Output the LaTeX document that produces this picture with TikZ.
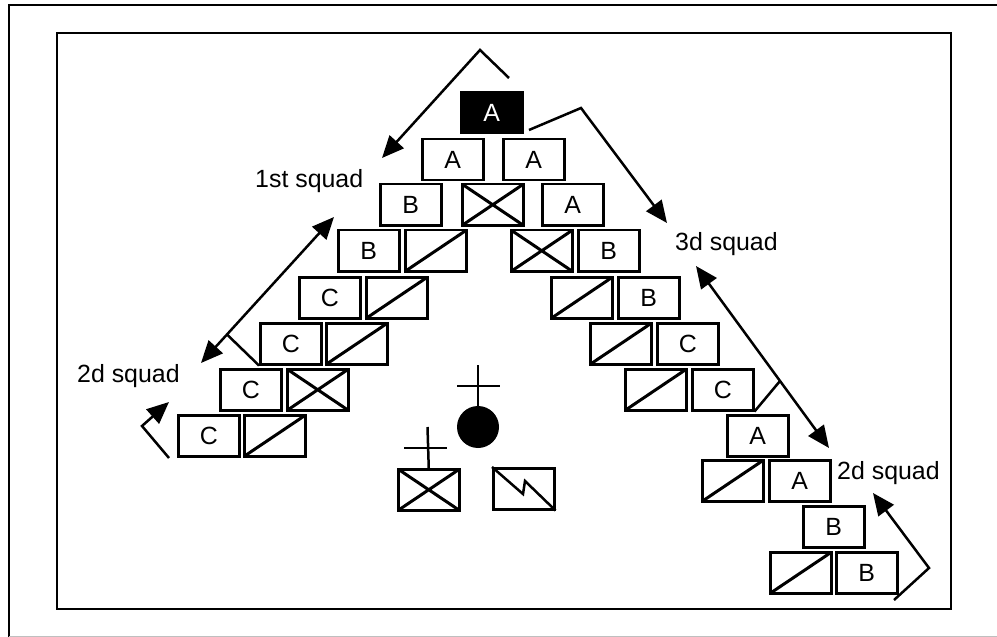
\documentclass[tikz,border=0pt]{standalone}
\usepackage{fontspec}
\setmainfont{Liberation Sans}
\usetikzlibrary{arrows.meta}
\tikzset{
  unit/.style={draw, line width=2.5bp, minimum width=61bp, minimum height=41bp, inner sep=0pt, anchor=north west, font=\fontsize{25}{29}\selectfont},
  hq/.style={unit, fill=black, text=white},
  slashbox/.style={unit, path picture={\draw[line width=3bp] (path picture bounding box.south west) -- (path picture bounding box.north east);}},
  xbox/.style={unit, path picture={\draw[line width=3bp] (path picture bounding box.south west) -- (path picture bounding box.north east) (path picture bounding box.north west) -- (path picture bounding box.south east);}},
  lbl/.style={anchor=base west, inner sep=0pt, font=\fontsize{25}{29}\selectfont},
  arr/.style={line width=2.5bp, -{Triangle[length=22bp,width=19bp]}},
  darr/.style={line width=2.5bp, {Triangle[length=22bp,width=19bp]}-{Triangle[length=22bp,width=19bp]}},
  ln/.style={line width=2.5bp},
}
\begin{document}
\begin{tikzpicture}[x=1bp,y=-1bp]
\useasboundingbox (0,0) rectangle (997,637);
% outer frame
\draw[line width=2.5bp] (8,5) -- (997,5);
\draw[line width=2.5bp] (9,5) -- (9,637);
\draw[line width=1bp, black!25] (9,636) -- (997,636);
% inner frame
\draw[line width=2.5bp] (57,33) rectangle (951,609);

% row 1
\node[hq] (a0) at (460,91) {A};
% row 2
\node[unit] (r2a) at (421,138) {A};
\node[unit] (r2b) at (502,138) {A};
% row 3
\node[unit] (r3a) at (379,183) {B};
\node[xbox] (r3b) at (461,183) {};
\node[unit] (r3c) at (541,183) {A};
% row 4
\node[unit] (r4a) at (337,229) {B};
\node[slashbox] (r4b) at (404,229) {};
\node[xbox] (r4c) at (510,229) {};
\node[unit] (r4d) at (577,229) {B};
% row 5
\node[unit] (r5a) at (298,276) {C};
\node[slashbox] (r5b) at (365,276) {};
\node[slashbox] (r5c) at (550,276) {};
\node[unit] (r5d) at (617,276) {B};
% row 6
\node[unit] (r6a) at (259,322) {C};
\node[slashbox] (r6b) at (325,322) {};
\node[slashbox] (r6c) at (589,322) {};
\node[unit] (r6d) at (656,322) {C};
% row 7
\node[unit] (r7a) at (219,368) {C};
\node[xbox] (r7b) at (286,368) {};
\node[slashbox] (r7c) at (624,368) {};
\node[unit] (r7d) at (691,368) {C};
% row 8
\node[unit] (r8a) at (177,414) {C};
\node[slashbox] (r8b) at (243,414) {};
\node[unit] (r8c) at (726,414) {A};
% row 9
\node[slashbox] (r9a) at (701,459) {};
\node[unit] (r9b) at (768,459) {A};
% row 10
\node[unit] (r10a) at (802,505) {B};
% row 11
\node[slashbox] (r11a) at (769,551) {};
\node[unit] (r11b) at (835,551) {B};

% center symbols
\node[circle, fill=black, minimum size=42bp, inner sep=0pt] (cdr) at (478,427) {};
\coordinate (cdrtop) at (478,365);
\draw[ln] (cdrtop) -- (cdr.north);
\coordinate (cbl) at (457,386);
\coordinate (cbr) at (500,386);
\draw[ln] (cbl) -- (cbr);

\node[xbox] (med) at (397,468) {};
\coordinate (medtop) at (427.5,427);
\draw[ln] (medtop) -- (med.north);
\coordinate (mbl) at (404,448);
\coordinate (mbr) at (447,448);
\draw[ln] (mbl) -- (mbr);

\node[unit] (radio) at (492,467) {};
\coordinate (z1) at (523,494);
\coordinate (z2) at (525,481);
\draw[ln, line join=miter] (radio.north west) -- (z1) -- (z2) -- (radio.south east);

% labels
\node[lbl] (l1) at (255,188) {1st squad};
\node[lbl] (l2) at (77,382) {2d squad};
\node[lbl] (l3) at (675,251) {3d squad};
\node[lbl] (l4) at (837,479) {2d squad};

% arrows
\coordinate (p1s) at (509,78);
\coordinate (p1m) at (480,50);
\coordinate (p1e) at (382,158);
\draw[arr] (p1s) -- (p1m) -- (p1e);

\coordinate (p2s) at (529,130);
\coordinate (p2m) at (581,108);
\coordinate (p2e) at (667,223);
\draw[arr] (p2s) -- (p2m) -- (p2e);

\coordinate (p3a) at (334,217);
\coordinate (p3b) at (201,363);
\draw[darr] (p3a) -- (p3b);
\coordinate (p3t) at (227,334.5);
\draw[ln] (p3t) -- (r6a.south west);

\coordinate (p4s) at (169,458);
\coordinate (p4m) at (142,426);
\coordinate (p4e) at (169,402);
\draw[arr] (p4s) -- (p4m) -- (p4e);

\coordinate (p5a) at (696,266);
\coordinate (p5b) at (829,448);
\draw[darr] (p5a) -- (p5b);
\coordinate (p5t) at (780,381);
\draw[ln] (p5t) -- (r7d.south east);

\coordinate (p6s) at (894,600);
\coordinate (p6m) at (929,568);
\coordinate (p6e) at (873,493);
\draw[arr] (p6s) -- (p6m) -- (p6e);
\end{tikzpicture}
\end{document}
